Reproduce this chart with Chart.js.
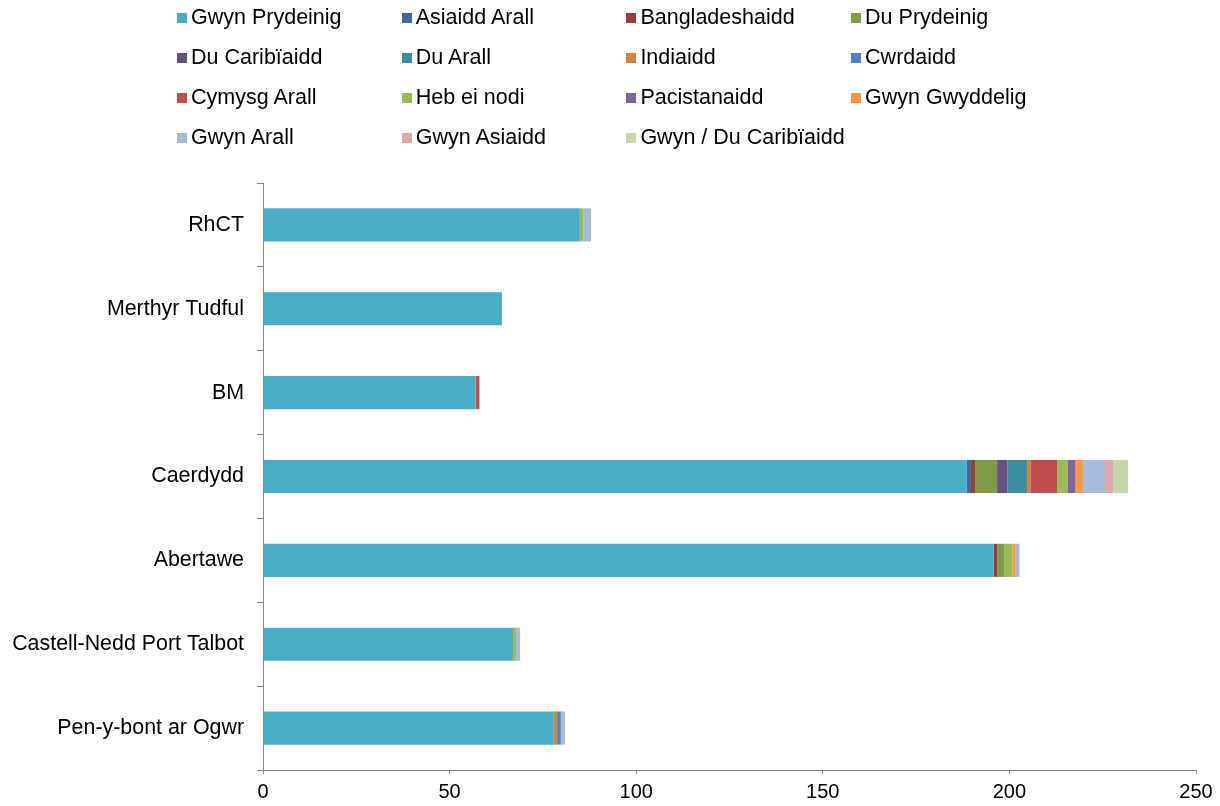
<!DOCTYPE html>
<html>
<head>
<meta charset="utf-8">
<script src="https://cdn.jsdelivr.net/npm/chart.js@4/dist/chart.umd.min.js"></script>
<style>
  body { margin: 0; background: #fff; }
  #wrap { position: relative; width: 1220px; height: 806px; }
  #legend { position: absolute; left: 0; top: 0; font-family: "Liberation Sans", Arial, sans-serif; }
  .item { position: absolute; height: 24px; white-space: nowrap; }
  .box { position: absolute; left: 0; top: 7px; width: 10px; height: 10px; }
  .txt { position: absolute; left: 14px; top: -1px; font-size: 21.5px; line-height: 24px; color: #000; }
</style>
</head>
<body>
<div id="wrap">
  <canvas id="myChart" width="1220" height="806"></canvas>
  <div id="legend"></div>
</div>
<script>
let areas = ['RhCT', 'Merthyr Tudful', 'BM', 'Caerdydd', 'Abertawe', 'Castell-Nedd Port Talbot', 'Pen-y-bont ar Ogwr'];
let groups = ['Gwyn Prydeinig', 'Asiaidd Arall', 'Bangladeshaidd', 'Du Prydeinig', 'Du Caribïaidd', 'Du Arall', 'Indiaidd', 'Cwrdaidd',
  'Cymysg Arall', 'Heb ei nodi', 'Pacistanaidd', 'Gwyn Gwyddelig', 'Gwyn Arall', 'Gwyn Asiaidd', 'Gwyn / Du Caribïaidd'];
let colorHex = ['#4bacc6', '#3d6a9c', '#9a3c3a', '#7f9b47', '#664f84', '#3a8ca0', '#d6813c', '#4f81bd',
  '#c0504d', '#9bbb59', '#8064a2', '#f79646', '#a9bad8', '#dba9a8', '#c5d7aa'];

// one row per group, in the order of areas
let gwynPrydeinig = [84.9, 64.0, 57.0, 188.6, 195.8, 67.0, 77.9];
let asiaiddArall = [0, 0, 0, 1.1, 0, 0, 0];
let bangladeshaidd = [0, 0, 0, 1.1, 1.0, 0, 0];
let duPrydeinig = [0, 0, 0, 5.9, 1.8, 0, 0];
let duCaribiaidd = [0, 0, 0, 2.8, 0, 0, 0];
let duArall = [0, 0, 0, 5.2, 0, 0, 0];
let indiaidd = [0, 0, 0, 0.9, 0, 0, 0.9];
let cwrdaidd = [0, 0, 0, 0, 0, 0, 1.0];
let cymysgArall = [0, 0, 1.0, 7.2, 0, 0, 0];
let hebEiNodi = [0.9, 0, 0, 2.9, 2.2, 0.8, 0];
let pacistanaidd = [0, 0, 0, 2.0, 0, 0, 0];
let gwynGwyddelig = [0, 0, 0, 2.0, 0.9, 0, 0];
let gwynArall = [2.1, 0, 0, 5.9, 1.0, 1.1, 1.1];
let gwynAsiaidd = [0, 0, 0, 2.2, 0, 0, 0];
let gwynDuCaribiaidd = [0, 0, 0, 4.0, 0, 0, 0];

let xTicks = [0, 50, 100, 150, 200, 250];

let values = [gwynPrydeinig, asiaiddArall, bangladeshaidd, duPrydeinig, duCaribiaidd, duArall, indiaidd, cwrdaidd,
  cymysgArall, hebEiNodi, pacistanaidd, gwynGwyddelig, gwynArall, gwynAsiaidd, gwynDuCaribiaidd];

// legend, 4 columns
let legend = document.getElementById('legend');
groups.forEach((g, i) => {
  let col = i % 4, row = Math.floor(i / 4);
  let item = document.createElement('div');
  item.className = 'item';
  item.style.left = (177 + col * 224.7) + 'px';
  item.style.top = (6 + row * 40) + 'px';
  item.innerHTML = '<span class="box" style="background:' + colorHex[i] + '"></span><span class="txt">' + g + '</span>';
  legend.appendChild(item);
});

let ctx = document.getElementById('myChart').getContext('2d');
let axisGrey = '#868686';

let myChart = new Chart(ctx, {
  type: 'bar',
  data: {
    labels: areas,
    datasets: groups.map((g, i) => ({
      label: g,
      data: values[i],
      backgroundColor: colorHex[i],
      borderWidth: 0,
      barPercentage: 0.395,
      categoryPercentage: 1
    }))
  },
  options: {
    indexAxis: 'y',
    responsive: false,
    animation: false,
    layout: { padding: { top: 183, right: 24, left: 0, bottom: 0 } },
    plugins: {
      legend: { display: false },
      tooltip: { enabled: false }
    },
    scales: {
      x: {
        stacked: true,
        min: 0,
        max: 250,
        afterBuildTicks: (scale) => { scale.ticks = xTicks.map(v => ({ value: v })); },
        afterFit: (scale) => { scale.height = 36; },
        grid: { drawOnChartArea: false, color: axisGrey, tickLength: 4 },
        border: { color: axisGrey, width: 1 },
        ticks: { color: '#000', padding: 6, font: { family: 'Liberation Sans', size: 20 } }
      },
      y: {
        stacked: true,
        afterFit: (scale) => { scale.width = 263; },
        grid: { drawOnChartArea: false, color: axisGrey, tickLength: 6, offset: true },
        border: { color: axisGrey, width: 1 },
        ticks: { color: '#000', padding: 13, font: { family: 'Liberation Sans', size: 21.4 } }
      }
    }
  }
});
</script>
</body>
</html>
